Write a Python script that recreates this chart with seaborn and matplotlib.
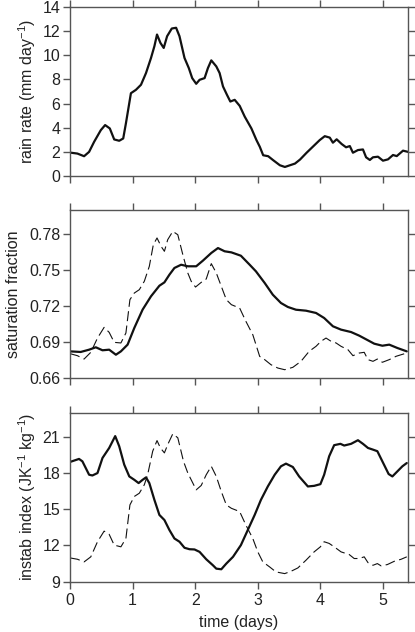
import numpy as np
import pandas as pd
import seaborn as sns
import matplotlib.pyplot as plt

# rain rate (mm/day) vs time (days)
rain_t = [0, 0.118, 0.225, 0.305, 0.385, 0.492, 0.561, 0.636, 0.706, 0.786, 0.85, 0.893,
          0.973, 1.053, 1.134, 1.214, 1.294, 1.348, 1.39, 1.444, 1.497, 1.551, 1.626, 1.695,
          1.749, 1.829, 1.898, 1.952, 2.016, 2.07, 2.15, 2.203, 2.257, 2.337, 2.39, 2.444,
          2.508, 2.561, 2.631, 2.711, 2.791, 2.898, 2.979, 3.032, 3.086, 3.166, 3.246, 3.353,
          3.433, 3.513, 3.594, 3.674, 3.78, 3.88, 3.99, 4.07, 4.15, 4.20, 4.26, 4.34, 4.41,
          4.47, 4.52, 4.60, 4.68, 4.73, 4.79, 4.84, 4.92, 5.0, 5.08, 5.16, 5.22, 5.32, 5.40]
rain = [1.94, 1.86, 1.64, 2.0, 2.83, 3.8, 4.22, 3.94, 3.03, 2.92, 3.11, 4.36,
        6.86, 7.14, 7.56, 8.53, 9.78, 10.75, 11.72, 11.03, 10.61, 11.58, 12.22, 12.28,
        11.58, 9.78, 8.94, 8.11, 7.64, 7.97, 8.11, 8.94, 9.58, 9.08, 8.53, 7.42,
        6.72, 6.17, 6.31, 5.81, 4.92, 3.94, 2.97, 2.42, 1.72, 1.64, 1.31, 0.89,
        0.75, 0.89, 1.03, 1.36, 1.93, 2.43, 2.98, 3.3, 3.18, 2.76, 3.04, 2.65, 2.38,
        2.48, 1.93, 2.15, 2.2, 1.55, 1.33, 1.55, 1.6, 1.27, 1.38, 1.74, 1.65, 2.1, 2.0]

# saturation fraction, solid
sat_t = [0, 0.171, 0.305, 0.412, 0.519, 0.626, 0.733, 0.813, 0.92, 1.027, 1.16, 1.294,
         1.428, 1.508, 1.588, 1.668, 1.775, 1.882, 2.016, 2.123, 2.257, 2.364, 2.47, 2.578,
         2.73, 2.87, 2.97, 3.11, 3.24, 3.37, 3.48, 3.61, 3.77, 3.93, 4.06, 4.20, 4.33,
         4.49, 4.62, 4.76, 4.86, 4.99, 5.10, 5.23, 5.38]
sat = [0.6822, 0.6817, 0.6836, 0.6856, 0.6831, 0.6836, 0.6794, 0.6822, 0.6878, 0.7017,
       0.717, 0.7281, 0.7369, 0.7397, 0.7461, 0.7517, 0.7544, 0.7531, 0.7531, 0.7578,
       0.7642, 0.7683, 0.7656, 0.7647, 0.7619, 0.7544, 0.7489, 0.7392, 0.7294, 0.7225,
       0.7192, 0.7169, 0.7161, 0.7142, 0.71, 0.7031, 0.7003, 0.6983, 0.6953, 0.6914,
       0.6886, 0.6869, 0.6878, 0.685, 0.6822]

# saturation fraction, dashed
sat2_t = [0, 0.118, 0.225, 0.332, 0.439, 0.545, 0.626, 0.706, 0.813, 0.893, 0.957, 1.027,
          1.107, 1.187, 1.267, 1.331, 1.39, 1.455, 1.508, 1.561, 1.642, 1.722, 1.802, 1.882,
          1.936, 2.005, 2.096, 2.176, 2.257, 2.337, 2.417, 2.497, 2.578, 2.71, 2.81, 2.92,
          3.03, 3.11, 3.21, 3.32, 3.43, 3.56, 3.69, 3.82, 3.93, 4.01, 4.09, 4.17, 4.25,
          4.33, 4.44, 4.52, 4.62, 4.70, 4.76, 4.84, 4.91, 4.99, 5.10, 5.21, 5.29, 5.38]
sat2 = [0.6803, 0.6786, 0.6758, 0.6814, 0.6933, 0.7022, 0.698, 0.6897, 0.6892, 0.6975,
        0.7253, 0.7308, 0.7336, 0.7406, 0.7531, 0.7711, 0.7767, 0.7697, 0.7656, 0.7753,
        0.7822, 0.7794, 0.7628, 0.7475, 0.7406, 0.7358, 0.7397, 0.7425, 0.7553, 0.7475,
        0.7364, 0.7253, 0.7211, 0.7183, 0.7072, 0.6961, 0.678, 0.6753, 0.6711, 0.6683,
        0.6669, 0.6689, 0.6739, 0.6822, 0.6864, 0.6906, 0.6933, 0.6906, 0.6892, 0.6864,
        0.6836, 0.6786, 0.6808, 0.6814, 0.6753, 0.6739, 0.6758, 0.6731, 0.6753, 0.6781,
        0.6794, 0.6808]

# instability index, solid
ins_t = [0, 0.144, 0.198, 0.305, 0.358, 0.439, 0.519, 0.626, 0.722, 0.786, 0.866, 0.947,
         1.027, 1.096, 1.16, 1.214, 1.267, 1.348, 1.428, 1.508, 1.588, 1.668, 1.749, 1.829,
         1.909, 1.989, 2.07, 2.176, 2.283, 2.337, 2.417, 2.497, 2.604, 2.73, 2.84, 2.95,
         3.05, 3.16, 3.27, 3.37, 3.45, 3.56, 3.66, 3.80, 3.90, 4.0, 4.06, 4.14, 4.22, 4.32,
         4.38, 4.49, 4.60, 4.68, 4.76, 4.84, 4.91, 4.99, 5.09, 5.15, 5.23, 5.31, 5.38]
ins = [18.92, 19.17, 18.97, 17.86, 17.8, 18.0, 19.25, 20.08, 21.06, 20.22, 18.7, 17.72,
       17.44, 17.17, 17.44, 17.64, 17.17, 15.78, 14.53, 14.11, 13.28, 12.58, 12.31, 11.81,
       11.69, 11.67, 11.47, 10.86, 10.36, 10.08, 10.03, 10.5, 11.06, 12.03, 13.28, 14.53,
       15.78, 16.89, 17.86, 18.56, 18.78, 18.5, 17.72, 16.89, 16.94, 17.08, 17.86, 19.39,
       20.31, 20.42, 20.28, 20.42, 20.72, 20.42, 20.08, 19.94, 19.81, 18.97, 17.92, 17.72,
       18.14, 18.56, 18.83]

# instability index, dashed
ins2_t = [0, 0.118, 0.225, 0.332, 0.439, 0.545, 0.626, 0.706, 0.813, 0.893, 0.957, 1.027,
          1.107, 1.187, 1.24, 1.321, 1.39, 1.444, 1.508, 1.561, 1.642, 1.722, 1.813, 1.882,
          1.936, 2.016, 2.096, 2.176, 2.257, 2.337, 2.417, 2.497, 2.578, 2.71, 2.81, 2.92,
          3.0, 3.08, 3.19, 3.29, 3.43, 3.53, 3.64, 3.77, 3.90, 4.0, 4.06, 4.14, 4.22, 4.33,
          4.46, 4.54, 4.62, 4.70, 4.76, 4.84, 4.91, 4.97, 5.07, 5.18, 5.29, 5.38]
ins2 = [10.97, 10.86, 10.64, 11.06, 12.31, 13.19, 12.92, 12.03, 11.89, 12.58, 15.36, 16.06,
        16.33, 17.03, 17.86, 19.81, 20.69, 20.08, 19.67, 20.36, 21.25, 20.92, 18.97, 18.0,
        17.44, 16.61, 16.97, 17.86, 18.56, 17.72, 16.47, 15.36, 15.08, 14.81, 13.69, 12.58,
        11.47, 10.64, 10.22, 9.81, 9.67, 9.86, 10.14, 10.78, 11.47, 11.89, 12.31, 12.17,
        11.89, 11.47, 11.25, 10.92, 10.92, 11.06, 10.58, 10.36, 10.5, 10.31, 10.42, 10.69,
        10.86, 11.06]

sns.set_style("ticks")
plt.rcParams['font.family'] = ['Liberation Sans', 'DejaVu Sans']
plt.rcParams['mathtext.fontset'] = 'custom'
plt.rcParams['mathtext.rm'] = 'Liberation Sans'
plt.rcParams['mathtext.it'] = 'Liberation Sans'

txt = '#222222'
spine = '#555555'
fs = 11.5

fig = plt.figure(figsize=(4.15, 6.32), dpi=100)
ax1 = fig.add_axes([0.1687, 0.7215, 0.8145, 0.2674])
ax2 = fig.add_axes([0.1687, 0.4019, 0.8145, 0.2658])
ax3 = fig.add_axes([0.1687, 0.0796, 0.8145, 0.2674])

sns.lineplot(x=rain_t, y=rain, ax=ax1, color='#111111', lw=1.6)
sns.lineplot(x=sat_t, y=sat, ax=ax2, color='#111111', lw=1.6)
sns.lineplot(x=sat2_t, y=sat2, ax=ax2, color='#111111', lw=0.8, dashes=False,
             linestyle=(0, (9, 4)))
sns.lineplot(x=ins_t, y=ins, ax=ax3, color='#111111', lw=1.6)
sns.lineplot(x=ins2_t, y=ins2, ax=ax3, color='#111111', lw=0.8, dashes=False,
             linestyle=(0, (9, 4)))

ax1.set_ylim(0, 14)
ax1.set_yticks(np.arange(0, 15, 2))
ax1.set_ylabel('rain rate (mm day$^{-1}$)', fontsize=fs, color=txt, labelpad=3)

ax2.set_ylim(0.66, 0.80)
ax2.set_yticks([0.66, 0.69, 0.72, 0.75, 0.78])
ax2.set_yticklabels(['0.66', '0.69', '0.72', '0.75', '0.78'])
ax2.set_ylabel('saturation fraction', fontsize=fs, color=txt, labelpad=6)

ax3.set_ylim(9, 23)
ax3.set_yticks([9, 12, 15, 18, 21])
ax3.set_ylabel('instab index (JK$^{-1}$ kg$^{-1}$)', fontsize=fs, color=txt, labelpad=3)
ax3.set_xlabel('time (days)', fontsize=fs, color=txt, labelpad=5)

for ax in [ax1, ax2, ax3]:
    ax.set_xlim(0, 5.4)
    ax.set_xticks([0, 1, 2, 3, 4, 5])
    for s in ax.spines.values():
        s.set_visible(True)
        s.set_color(spine)
        s.set_linewidth(1.0)
    ax.tick_params(direction='out', length=5, width=1.0, color=spine,
                   labelsize=fs, labelcolor=txt, top=True, right=True)
    ax.tick_params(axis='y', pad=2)
    if ax is not ax3:
        ax.set_xticklabels([])
        ax.set_xlabel('')

fig.savefig('out.png', dpi=100)
